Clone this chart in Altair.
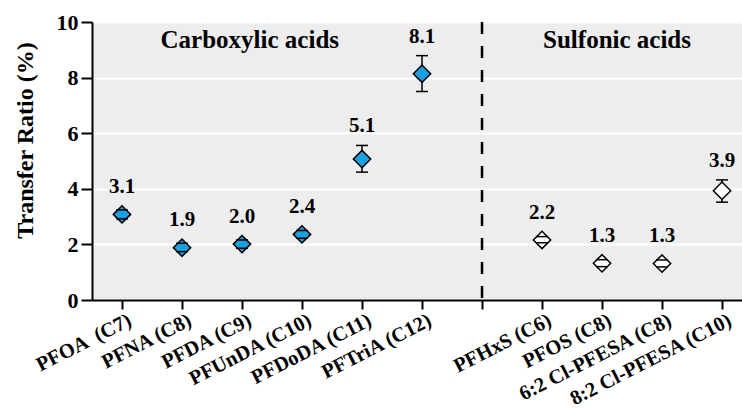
import altair as alt
import pandas as pd

# ---- data ----
names = ["PFOA \u00a0(C7)", "PFNA (C8)", "PFDA (C9)", "PFUnDA (C10)", "PFDoDA (C11)", "PFTriA (C12)",
         "PFHxS (C6)", "PFOS (C8)", "6:2 Cl-PFESA (C8)", "8:2 Cl-PFESA (C10)"]
groups = ["Carboxylic"] * 6 + ["Sulfonic"] * 4
positions = [0, 1, 2, 3, 4, 5, 7, 8, 9, 10]
means = [3.08, 1.88, 2.01, 2.36, 5.07, 8.14, 2.16, 1.32, 1.31, 3.93]
lows = [2.92, 1.74, 1.86, 2.22, 4.60, 7.50, 2.06, 1.20, 1.19, 3.52]
highs = [3.24, 2.04, 2.16, 2.50, 5.56, 8.79, 2.28, 1.45, 1.44, 4.32]
value_labels = ["3.1", "1.9", "2.0", "2.4", "5.1", "8.1", "2.2", "1.3", "1.3", "3.9"]
group_titles = ["Carboxylic acids", "Sulfonic acids"]
divider_pos = 6
y_ticks = [0, 2, 4, 6, 8, 10]

df = pd.DataFrame({
    "name": names, "group": groups, "pos": positions,
    "mean": means, "low": lows, "high": highs, "lab": value_labels,
})

tick_labels = names[:6] + [""] + names[6:]
label_expr = "[" + ",".join("'" + s + "'" for s in tick_labels) + "][datum.value]"

FONT = "Liberation Serif, Times New Roman, DejaVu Serif, serif"
BLUE = "#1CA1E0"

xscale = alt.Scale(domain=[-0.5, 10.333], nice=False, zero=False)
yscale = alt.Scale(domain=[0, 10], nice=False)

x_enc = alt.X("pos:Q", scale=xscale, axis=alt.Axis(
    values=list(range(11)), labelExpr=label_expr, labelAngle=333,
    labelAlign="right", labelBaseline="top", labelFont=FONT, labelFontWeight="bold",
    labelFontSize=20.5, labelColor="black", labelPadding=1, labelOffset=3, tickSize=9, tickWidth=2,
    tickColor="black", domainColor="black", domainWidth=2, grid=False, title=None,
    labelOverlap=False, labelBound=False, labelFlush=False, labelLimit=400))

y_axis = alt.Axis(values=y_ticks, format="d", labelFont=FONT, labelFontWeight="bold",
                  labelFontSize=22, labelColor="black", labelPadding=3, tickSize=11,
                  tickWidth=2, tickColor="black", domainColor="black", domainWidth=2,
                  grid=True, gridColor="white", gridWidth=2,
                  title="Transfer Ratio (%)", titleFont=FONT, titleFontWeight="bold",
                  titleFontSize=24, titleColor="black", titleX=-67, titleY=118,
                  titleAngle=270, titleAlign="center", titleBaseline="middle")

base = alt.Chart(df)

bars = base.mark_rule(color="black", strokeWidth=1.5).encode(
    x=x_enc, y=alt.Y("low:Q", scale=yscale, axis=y_axis), y2="high:Q")

points = base.mark_point(shape="diamond", filled=True, size=300, stroke="black",
                         strokeWidth=1.5, opacity=1).encode(
    x="pos:Q", y="mean:Q",
    fill=alt.Fill("group:N", scale=alt.Scale(domain=["Carboxylic", "Sulfonic"],
                                             range=[BLUE, "white"]), legend=None))

caps = base.transform_fold(["low", "high"], as_=["which", "val"]).mark_tick(
    orient="horizontal", size=12, thickness=1.5, color="black", opacity=1).encode(
    x="pos:Q", y="val:Q")

texts = base.transform_calculate(ly="max(datum.high, datum.mean + 0.3)").mark_text(
    font=FONT, fontWeight="bold", fontSize=21, baseline="bottom", dy=-9, color="black").encode(
    x="pos:Q", y="ly:Q", text="lab:N")

divider = alt.Chart(pd.DataFrame({"x": [divider_pos]})).mark_rule(
    color="black", strokeWidth=2.5, strokeDash=[12, 12]).encode(
    x="x:Q", y=alt.datum(10), y2=alt.datum(0))

titles = alt.Chart(pd.DataFrame({"t": group_titles, "x": [2.13, 8.25], "y": [9.05, 9.05]})).mark_text(
    font=FONT, fontWeight="bold", fontSize=25, baseline="alphabetic", color="black").encode(
    x="x:Q", y="y:Q", text="t:N")

chart = alt.layer(bars, divider, points, caps, texts, titles).properties(
    width=650, height=278,
    autosize=alt.AutoSizeParams(type="none"),
    padding={"left": 92, "top": 22, "right": 0, "bottom": 111},
).configure_view(fill="#EDEDED", strokeWidth=0)

chart.save("out.html", embed_options={"renderer": "svg", "actions": False})
